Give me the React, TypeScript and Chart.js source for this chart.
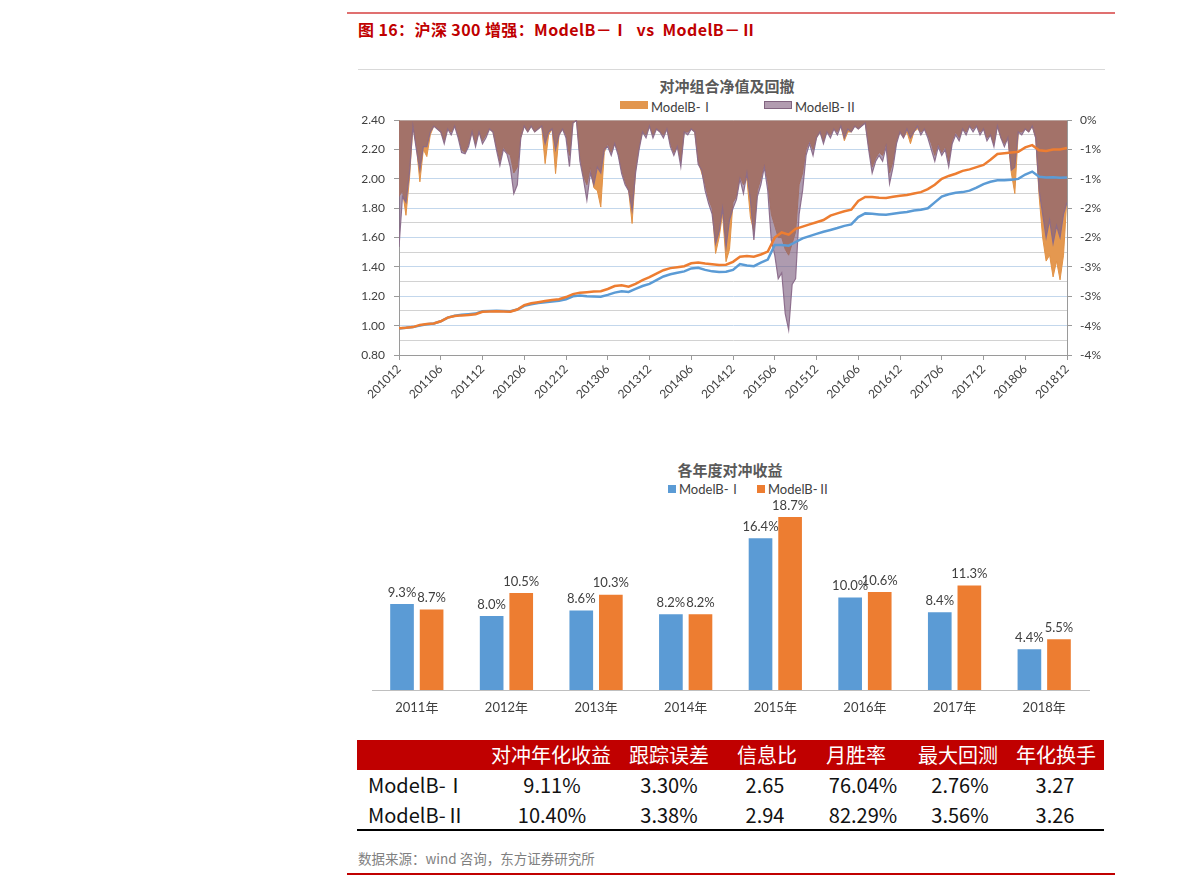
import React, { useEffect, useRef } from 'react';
import { Chart, registerables } from 'chart.js';

Chart.register(...registerables);

const LATIN = "Lato, 'Noto Sans CJK SC', sans-serif";
const CJK = "'Noto Sans CJK SC', 'Noto Sans', sans-serif";
const TEXT = '#404040';

// 对冲组合净值，月度，201012 → 201812
const navModelB1 = [
  0.98, 0.985, 0.99, 1.0, 1.01, 1.015, 1.03, 1.055, 1.068, 1.075,
  1.078, 1.082, 1.098, 1.1, 1.102, 1.1, 1.098, 1.11, 1.135, 1.145,
  1.155, 1.16, 1.165, 1.17, 1.18, 1.2, 1.205, 1.2, 1.198, 1.197,
  1.21, 1.225, 1.235, 1.23, 1.25, 1.27, 1.285, 1.31, 1.335, 1.35,
  1.36, 1.37, 1.39, 1.395, 1.38, 1.37, 1.365, 1.367, 1.38, 1.42,
  1.41, 1.405, 1.43, 1.45, 1.55, 1.55, 1.545, 1.57, 1.595, 1.61,
  1.625, 1.64, 1.652, 1.665, 1.68, 1.69, 1.74, 1.765, 1.762, 1.758,
  1.755, 1.762, 1.77, 1.775, 1.785, 1.79, 1.8, 1.84, 1.88, 1.895,
  1.905, 1.91, 1.92, 1.94, 1.965, 1.98, 1.99, 1.99, 1.995, 2.0,
  2.03, 2.05, 2.015, 2.01, 2.012, 2.008, 2.01,
];
const navModelB2 = [
  0.982, 0.985, 0.99, 1.005, 1.012, 1.015, 1.03, 1.055, 1.065, 1.07,
  1.072, 1.078, 1.095, 1.097, 1.098, 1.096, 1.095, 1.11, 1.14, 1.152,
  1.16, 1.168, 1.175, 1.18, 1.195, 1.215, 1.225, 1.228, 1.232, 1.235,
  1.25, 1.27, 1.275, 1.265, 1.285, 1.31, 1.33, 1.355, 1.378, 1.392,
  1.398, 1.405, 1.425, 1.43, 1.423, 1.418, 1.413, 1.415, 1.435, 1.47,
  1.475, 1.47, 1.485, 1.505, 1.6, 1.635, 1.62, 1.66, 1.675, 1.69,
  1.705, 1.72, 1.75, 1.765, 1.78, 1.79, 1.85, 1.877, 1.876, 1.872,
  1.87, 1.878, 1.885, 1.89, 1.9, 1.91, 1.93, 1.96, 2.0, 2.02,
  2.035, 2.055, 2.065, 2.08, 2.095, 2.13, 2.17, 2.175, 2.18, 2.185,
  2.215, 2.23, 2.195, 2.19, 2.2, 2.2, 2.21,
];

// 回撤深度（%），半月一个点
const ddModelB1 = [
  1.3, 1.2, 1.62, 1.0, 0.1, 0.45, 1.05, 0.5, 0.62, 0.25,
  0.1, 0.15, 0.2, 0.35, 0.15, 0.2, 0.1, 0.25, 0.5, 0.55,
  0.4, 0.2, 0.4, 0.2, 0.35, 0.25, 0.15, 0.2, 0.45, 0.7,
  0.45, 0.55, 0.6, 0.9, 0.8, 0.3, 0.1, 0.2, 0.1, 0.2,
  0.15, 0.1, 0.74, 0.25, 0.15, 0.91, 0.25, 0.15, 0.25, 0.6,
  0.05, 0, 0.6, 0.95, 1.1, 0.8, 1.15, 1.2, 1.48, 0.55,
  0.4, 0.55, 0.4, 0.55, 0.85, 1.05, 1.2, 1.76, 0.85, 0.45,
  0.2, 0.25, 0.1, 0.25, 0.15, 0.2, 0.25, 0.15, 0.4, 0.55,
  0.45, 0.7, 0.2, 0.2, 0.15, 0.2, 0.7, 0.9, 1.1, 1.35,
  1.5, 2.27, 2.0, 1.6, 2.41, 2.2, 1.4, 1.3, 0.95, 1.1,
  1.0, 1.65, 1.9, 1.2, 1.0, 0.75, 1.05, 1.6, 1.8, 2.0,
  2.0, 2.2, 2.3, 2.1, 1.9, 1.1, 0.9, 0.5, 0.35, 0.5,
  0.3, 0.2, 0.35, 0.2, 0.25, 0.15, 0.2, 0.1, 0.35, 0.2,
  0.2, 0.1, 0.15, 0.1, 0.05, 0.45, 0.8, 0.65, 0.55, 0.6,
  0.4, 0.9, 0.7, 0.35, 0.2, 0.3, 0.2, 0.4, 0.2, 0.15,
  0.2, 0.15, 0.25, 0.4, 0.6, 0.4, 0.55, 0.45, 0.7, 0.35,
  0.2, 0.3, 0.15, 0.2, 0.1, 0.15, 0.1, 0.2, 0.15, 0.3,
  0.25, 0.4, 0.1, 0.3, 0.4, 0.3, 0.9, 1.25, 0.2, 0.2,
  0.15, 0.2, 0.1, 0.3, 1.3, 2.0, 2.4, 2.3, 2.67, 2.4,
  2.72, 2.3, 1.3,
];
const ddModelB2 = [
  2.16, 1.3, 1.4, 0.9, 0.1, 0.5, 0.85, 0.45, 0.45, 0.2,
  0.1, 0.15, 0.2, 0.4, 0.15, 0.25, 0.1, 0.3, 0.55, 0.57,
  0.45, 0.2, 0.45, 0.2, 0.4, 0.3, 0.15, 0.2, 0.5, 0.77,
  0.5, 0.57, 0.8, 1.25, 1.1, 0.3, 0.1, 0.2, 0.1, 0.2,
  0.15, 0.1, 0.4, 0.2, 0.15, 0.5, 0.25, 0.15, 0.3, 0.79,
  0.05, 0, 0.7, 1.0, 1.36, 0.9, 1.1, 0.8, 0.9, 0.5,
  0.45, 0.6, 0.4, 0.6, 0.91, 1.1, 1.2, 1.53, 0.9, 0.5,
  0.2, 0.3, 0.1, 0.3, 0.15, 0.2, 0.3, 0.15, 0.45, 0.6,
  0.45, 0.79, 0.2, 0.25, 0.15, 0.2, 0.75, 0.85, 1.2, 1.42,
  1.6, 2.1, 1.9, 1.5, 2.16, 1.7, 1.5, 1.35, 1.0, 1.25,
  0.9, 1.36, 2.04, 1.3, 1.1, 0.8, 1.2, 2.04, 2.3, 2.7,
  2.6, 3.29, 3.57, 2.8, 2.7, 1.6, 1.2, 0.6, 0.4, 0.6,
  0.3, 0.2, 0.4, 0.2, 0.3, 0.15, 0.25, 0.1, 0.3, 0.15,
  0.2, 0.1, 0.15, 0.1, 0.05, 0.5, 0.9, 0.7, 0.6, 0.7,
  0.45, 1.08, 0.8, 0.4, 0.2, 0.3, 0.15, 0.3, 0.2, 0.1,
  0.25, 0.15, 0.3, 0.5, 0.7, 0.45, 0.6, 0.5, 0.79, 0.4,
  0.25, 0.35, 0.15, 0.25, 0.1, 0.2, 0.1, 0.25, 0.15, 0.35,
  0.25, 0.45, 0.1, 0.3, 0.45, 0.3, 0.85, 0.8, 0.2, 0.25,
  0.15, 0.2, 0.1, 0.3, 1.2, 1.6, 2.0, 1.7, 2.1, 1.8,
  2.0, 1.6, 1.4,
];

const monthTickLabels = [
  '201012', '201106', '201112', '201206', '201212', '201306', '201312', '201406', '201412',
  '201506', '201512', '201606', '201612', '201706', '201712', '201806', '201812',
];

// 各年度对冲收益（%）
const years = ['2011年', '2012年', '2013年', '2014年', '2015年', '2016年', '2017年', '2018年'];
const annualModelB1 = [9.3, 8.0, 8.6, 8.2, 16.4, 10.0, 8.4, 4.4];
const annualModelB2 = [8.7, 10.5, 10.3, 8.2, 18.7, 10.6, 11.3, 5.5];

// 统计表
const statHeaders = ['对冲年化收益', '跟踪误差', '信息比', '月胜率', '最大回测', '年化换手'];
const statRowNames = ['ModelB-Ⅰ', 'ModelB-Ⅱ'];
const statModelB1 = ['9.11%', '3.30%', '2.65', '76.04%', '2.76%', '3.27'];
const statModelB2 = ['10.40%', '3.38%', '2.94', '82.29%', '3.56%', '3.26'];
const headerCenters = [551, 669, 767, 856, 958, 1056];
const valueCenters = [552, 669, 765, 863, 960, 1055];

const AXIS = '#9A9A9A';

function NavDrawdownChart() {
  const ref = useRef<HTMLCanvasElement>(null);
  useEffect(() => {
    const isMajor = (v: number) => Math.round(v * 10) % 2 === 0;
    const chart = new Chart(ref.current!, {
      type: 'line',
      data: {
        datasets: [
          {
            label: 'ModelB-Ⅰ',
            data: ddModelB1.map((v, i) => ({ x: i / 2, y: -v })),
            yAxisID: 'y1',
            fill: 'origin',
            backgroundColor: 'rgb(228,152,80)',
            borderColor: 'rgb(226,146,70)',
            borderWidth: 1,
            pointRadius: 0,
            tension: 0,
            order: 4,
          },
          {
            label: 'ModelB-Ⅱ',
            data: ddModelB2.map((v, i) => ({ x: i / 2, y: -v })),
            yAxisID: 'y1',
            fill: 'origin',
            backgroundColor: 'rgba(120,88,122,0.6)',
            borderColor: 'rgba(138,106,138,0.95)',
            borderWidth: 1.2,
            pointRadius: 0,
            tension: 0,
            order: 3,
          },
          {
            label: 'ModelB-Ⅰ 净值',
            data: navModelB1.map((v, i) => ({ x: i, y: v })),
            yAxisID: 'y',
            borderColor: '#5B9BD5',
            borderWidth: 2.5,
            pointRadius: 0,
            fill: false,
            tension: 0,
            order: 2,
          },
          {
            label: 'ModelB-Ⅱ 净值',
            data: navModelB2.map((v, i) => ({ x: i, y: v })),
            yAxisID: 'y',
            borderColor: '#ED7D31',
            borderWidth: 2.5,
            pointRadius: 0,
            fill: false,
            tension: 0,
            order: 1,
          },
        ],
      },
      options: {
        responsive: false,
        animation: false,
        layout: { padding: { top: 12, left: 0, right: 0, bottom: 0 } },
        plugins: { legend: { display: false }, title: { display: false }, tooltip: { enabled: false } },
        scales: {
          x: {
            type: 'linear',
            min: 0,
            max: 96,
            ticks: {
              stepSize: 6,
              autoSkip: false,
              minRotation: 45,
              maxRotation: 45,
              callback: (v: any) => monthTickLabels[Math.round(Number(v) / 6)],
              font: { family: LATIN, size: 12 },
              color: TEXT,
              padding: 2,
            },
            grid: { drawOnChartArea: false, tickLength: 5, color: AXIS },
            border: { color: AXIS },
            afterFit: (s: any) => { s.height = 50; },
          },
          y: {
            position: 'left',
            min: 0.8,
            max: 2.4,
            ticks: {
              stepSize: 0.1,
              autoSkip: false,
              callback: (v: any) => (isMajor(Number(v)) ? Number(v).toFixed(2) : ''),
              font: { family: LATIN, size: 12 },
              color: TEXT,
              padding: 9,
            },
            grid: {
              color: (c: any) => (isMajor(c.tick ? c.tick.value : 0) ? '#C3D7EC' : '#D2D2D2'),
              tickColor: (c: any) => (isMajor(c.tick ? c.tick.value : 0) ? AXIS : 'rgba(0,0,0,0)'),
              tickLength: 5,
            },
            border: { color: AXIS },
            afterFit: (s: any) => { s.width = 49; },
          },
          y1: {
            position: 'right',
            min: -4,
            max: 0,
            ticks: {
              stepSize: 0.5,
              autoSkip: false,
              callback: (v: any) => `${-Math.round(-Number(v))}%`,
              font: { family: LATIN, size: 12 },
              color: TEXT,
              padding: 8,
            },
            grid: { drawOnChartArea: false, tickLength: 5, color: AXIS },
            border: { color: AXIS },
            afterFit: (s: any) => { s.width = 43; },
          },
        },
      },
    } as any);
    return () => chart.destroy();
  }, []);
  return (
    <canvas
      ref={ref}
      width={760}
      height={301}
      style={{ position: 'absolute', left: 350, top: 104, width: 760, height: 301 }}
    />
  );
}

const barValueLabels = {
  id: 'barValueLabels',
  afterDatasetsDraw(chart: any) {
    const { ctx } = chart;
    ctx.save();
    ctx.font = `13px ${LATIN}`;
    ctx.fillStyle = TEXT;
    ctx.textAlign = 'center';
    ctx.textBaseline = 'bottom';
    chart.data.datasets.forEach((ds: any, di: number) => {
      chart.getDatasetMeta(di).data.forEach((bar: any, i: number) => {
        ctx.fillText(`${Number(ds.data[i]).toFixed(1)}%`, bar.x, bar.y - 5);
      });
    });
    ctx.restore();
  },
};

function AnnualChart() {
  const ref = useRef<HTMLCanvasElement>(null);
  useEffect(() => {
    const chart = new Chart(ref.current!, {
      type: 'bar',
      data: {
        labels: years,
        datasets: [
          { label: 'ModelB-Ⅰ', data: annualModelB1, backgroundColor: '#5B9BD5', categoryPercentage: 0.66, barPercentage: 0.8 },
          { label: 'ModelB-Ⅱ', data: annualModelB2, backgroundColor: '#ED7D31', categoryPercentage: 0.66, barPercentage: 0.8 },
        ],
      },
      options: {
        responsive: false,
        animation: false,
        layout: { padding: { top: 5, left: 12, right: 11, bottom: 0 } },
        plugins: { legend: { display: false }, title: { display: false }, tooltip: { enabled: false } },
        scales: {
          x: {
            grid: { display: false, drawTicks: false },
            border: { display: true, color: '#BFBFBF' },
            ticks: { font: { family: LATIN, size: 13 }, color: TEXT, padding: 10 },
            afterFit: (s: any) => { s.height = 30; },
          },
          y: { display: false, min: 0, max: 20 },
        },
      },
      plugins: [barValueLabels],
    } as any);
    return () => chart.destroy();
  }, []);
  return (
    <canvas
      ref={ref}
      width={740}
      height={220}
      style={{ position: 'absolute', left: 360, top: 500, width: 740, height: 220 }}
    />
  );
}

const abs = (s: React.CSSProperties): React.CSSProperties => ({ position: 'absolute', ...s });

export default function App() {
  return (
    <div style={{ position: 'absolute', left: 0, top: 0, width: 1191, height: 886, background: '#fff', overflow: 'hidden' }}>
      <div style={abs({ left: 347, top: 12, width: 768, height: 2, background: 'rgb(224,112,112)' })} />
      <div
        style={abs({
          left: 358, top: 18, lineHeight: '22px', fontFamily: CJK, fontWeight: 700, fontSize: 16,
          color: '#C00000', whiteSpace: 'pre', letterSpacing: '0.4px',
        })}
      >
        {'图 16：沪深 300 增强：ModelB－Ⅰ  vs  ModelB－Ⅱ'}
      </div>
      <div style={abs({ left: 358, top: 69, width: 747, height: 1, background: '#D9D9D9' })} />

      {/* 净值及回撤 */}
      <div
        style={abs({
          left: 527, top: 75, width: 400, textAlign: 'center', lineHeight: '22px', fontFamily: CJK,
          fontWeight: 700, fontSize: 15, color: '#595959',
        })}
      >
        对冲组合净值及回撤
      </div>
      <div style={abs({ left: 620, top: 101, width: 28, height: 8, background: 'rgb(226,150,78)' })} />
      <div style={abs({ left: 651, top: 99, lineHeight: '16px', fontFamily: LATIN, fontSize: 13, color: TEXT })}>ModelB-Ⅰ</div>
      <div
        style={abs({
          left: 764, top: 101, width: 26, height: 6, background: 'rgb(178,156,176)',
          border: '1px solid rgb(130,100,128)',
        })}
      />
      <div style={abs({ left: 795, top: 99, lineHeight: '16px', fontFamily: LATIN, fontSize: 13, color: TEXT })}>ModelB-Ⅱ</div>
      <NavDrawdownChart />

      {/* 各年度对冲收益 */}
      <div
        style={abs({
          left: 530, top: 459, width: 400, textAlign: 'center', lineHeight: '22px', fontFamily: CJK,
          fontWeight: 700, fontSize: 15, color: '#595959',
        })}
      >
        各年度对冲收益
      </div>
      <div style={abs({ left: 668, top: 485, width: 8, height: 8, background: '#5B9BD5' })} />
      <div style={abs({ left: 679, top: 481, lineHeight: '16px', fontFamily: LATIN, fontSize: 13, color: TEXT })}>ModelB-Ⅰ</div>
      <div style={abs({ left: 757, top: 485, width: 8, height: 8, background: '#ED7D31' })} />
      <div style={abs({ left: 768, top: 481, lineHeight: '16px', fontFamily: LATIN, fontSize: 13, color: TEXT })}>ModelB-Ⅱ</div>
      <AnnualChart />

      {/* 统计表 */}
      <div style={abs({ left: 357, top: 740, width: 747, height: 30, background: '#C00000' })} />
      {statHeaders.map((h, i) => (
        <div
          key={h}
          style={abs({
            left: headerCenters[i] - 70, top: 740, width: 140, textAlign: 'center', lineHeight: '30px',
            fontFamily: CJK, fontSize: 20, color: '#fff', whiteSpace: 'nowrap',
          })}
        >
          {h}
        </div>
      ))}
      {[statModelB1, statModelB2].map((row, r) => (
        <React.Fragment key={statRowNames[r]}>
          <div
            style={abs({
              left: 368, top: 771 + r * 30, lineHeight: '28px', fontFamily: CJK, fontSize: 20, color: '#111',
              whiteSpace: 'nowrap',
            })}
          >
            {statRowNames[r]}
          </div>
          {row.map((v, i) => (
            <div
              key={i}
              style={abs({
                left: valueCenters[i] - 60, top: 771 + r * 30, width: 120, textAlign: 'center', lineHeight: '28px',
                fontFamily: CJK, fontSize: 20, color: '#111', whiteSpace: 'nowrap',
              })}
            >
              {v}
            </div>
          ))}
        </React.Fragment>
      ))}
      <div style={abs({ left: 357, top: 829, width: 747, height: 2, background: '#000' })} />

      <div style={abs({ left: 358, top: 849, lineHeight: '18px', fontFamily: CJK, fontSize: 13.5, color: '#808080' })}>
        数据来源：wind 咨询，东方证券研究所
      </div>
      <div style={abs({ left: 347, top: 873, width: 768, height: 2, background: '#C00000' })} />
    </div>
  );
}
